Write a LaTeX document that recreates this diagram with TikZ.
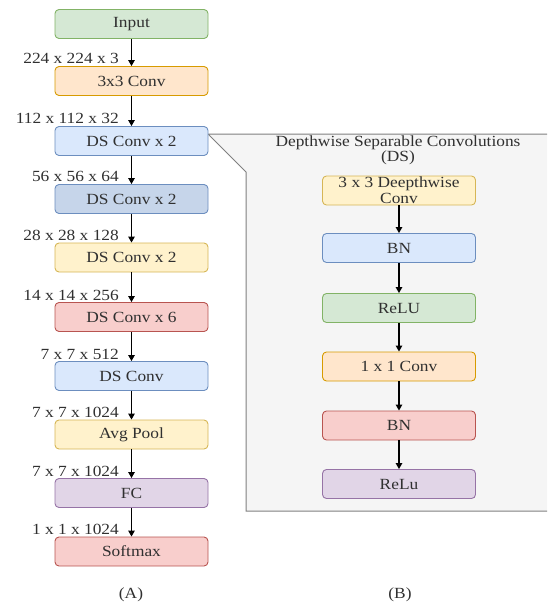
\documentclass[tikz,border=0pt]{standalone}
\usepackage{fontspec}
\setmainfont{Liberation Serif}[FakeStretch=1.12]
\usetikzlibrary{arrows.meta}
\definecolor{gF}{HTML}{D5E8D4}\definecolor{gS}{HTML}{82B366}
\definecolor{oF}{HTML}{FFE6CC}\definecolor{oS}{HTML}{D79B00}
\definecolor{bF}{HTML}{DAE8FC}\definecolor{bS}{HTML}{6C8EBF}
\definecolor{dF}{HTML}{C6D5EA}
\definecolor{yF}{HTML}{FFF2CC}\definecolor{yS}{HTML}{D6B656}
\definecolor{rF}{HTML}{F8CECC}\definecolor{rS}{HTML}{B85450}
\definecolor{pF}{HTML}{E1D5E7}\definecolor{pS}{HTML}{9673A6}
\definecolor{panF}{HTML}{F5F5F5}\definecolor{panS}{HTML}{808080}
\definecolor{txt}{HTML}{303030}
\tikzset{
  box/.style={rectangle, rounded corners=4pt, minimum width=153pt, minimum height=29pt,
    line width=0.9pt, text=txt, font=\fontsize{15.5}{16}\selectfont, inner sep=1pt, align=center},
  green/.style={box, fill=gF, draw=gS},
  orange/.style={box, fill=oF, draw=oS},
  blue/.style={box, fill=bF, draw=bS},
  dblue/.style={box, fill=dF, draw=bS},
  yellow/.style={box, fill=yF, draw=yS},
  red/.style={box, fill=rF, draw=rS},
  purple/.style={box, fill=pF, draw=pS},
  lbl/.style={anchor=east, inner sep=0pt, text=txt, font=\fontsize{15.5}{16}\selectfont},
  captxt/.style={inner sep=0pt, text=txt, font=\fontsize{15.5}{16}\selectfont},
  arr/.style={line width=1.2pt, black, -{Triangle[length=6pt,width=6.5pt]}},
  panel/.style={fill=panF, draw=panS, line width=1pt}
}
\begin{document}
\begin{tikzpicture}[x=1pt,y=-1pt]
\useasboundingbox (0,0) rectangle (547,605);
\begin{scope}
\clip (0,0) rectangle (547,605);
\draw[panel] (208,134) -- (552,134) -- (552,511) -- (246,511) -- (246,172) -- cycle;
\end{scope}
% left column
\node[green]  (in)  at (131.5,24)  {Input};
\node[orange] (c1)  at (131.5,81)  {3x3 Conv};
\node[blue]   (ds1) at (131.5,141) {DS Conv x 2};
\node[dblue]  (ds2) at (131.5,199) {DS Conv x 2};
\node[yellow] (ds3) at (131.5,257.5) {DS Conv x 2};
\node[red]    (ds4) at (131.5,317) {DS Conv x 6};
\node[blue]   (ds5) at (131.5,376) {DS Conv};
\node[yellow] (ap)  at (131.5,434.5) {Avg Pool};
\node[purple] (fc)  at (131.5,493) {FC};
\node[red]    (sm)  at (131.5,551.5) {Softmax};
\foreach \a/\b in {in/c1,c1/ds1,ds1/ds2,ds2/ds3,ds3/ds4,ds4/ds5,ds5/ap,ap/fc,fc/sm}
  \draw[arr] (\a) -- (\b);
\node[lbl] (l1) at (119,58)  {224 x 224 x 3};
\node[lbl] (l2) at (119,118) {112 x 112 x 32};
\node[lbl] (l3) at (119,176) {56 x 56 x 64};
\node[lbl] (l4) at (119,235) {28 x 28 x 128};
\node[lbl] (l5) at (119,295) {14 x 14 x 256};
\node[lbl] (l6) at (119,354) {7 x 7 x 512};
\node[lbl] (l7) at (119,412) {7 x 7 x 1024};
\node[lbl] (l8) at (119,471) {7 x 7 x 1024};
\node[lbl] (l9) at (119,529) {1 x 1 x 1024};
% right panel
\node[captxt, align=center, font=\fontsize{15.5}{14}\selectfont] (title) at (398,150) {Depthwise Separable Convolutions\\(DS)};
\node[yellow] (r1) at (399,190.5) {3 x 3 Deepthwise\\Conv};
\node[blue]   (r2) at (399,248) {BN};
\node[green]  (r3) at (399,308) {ReLU};
\node[orange] (r4) at (399,366.5) {1 x 1 Conv};
\node[red]    (r5) at (399,425.5) {BN};
\node[purple] (r6) at (399,484) {ReLu};
\foreach \a/\b in {r1/r2,r2/r3,r3/r4,r4/r5,r5/r6}
  \draw[arr] (\a) -- (\b);
\node[captxt] (capA) at (131,595) {(A)};
\node[captxt] (capB) at (400,595) {(B)};
\end{tikzpicture}
\end{document}
